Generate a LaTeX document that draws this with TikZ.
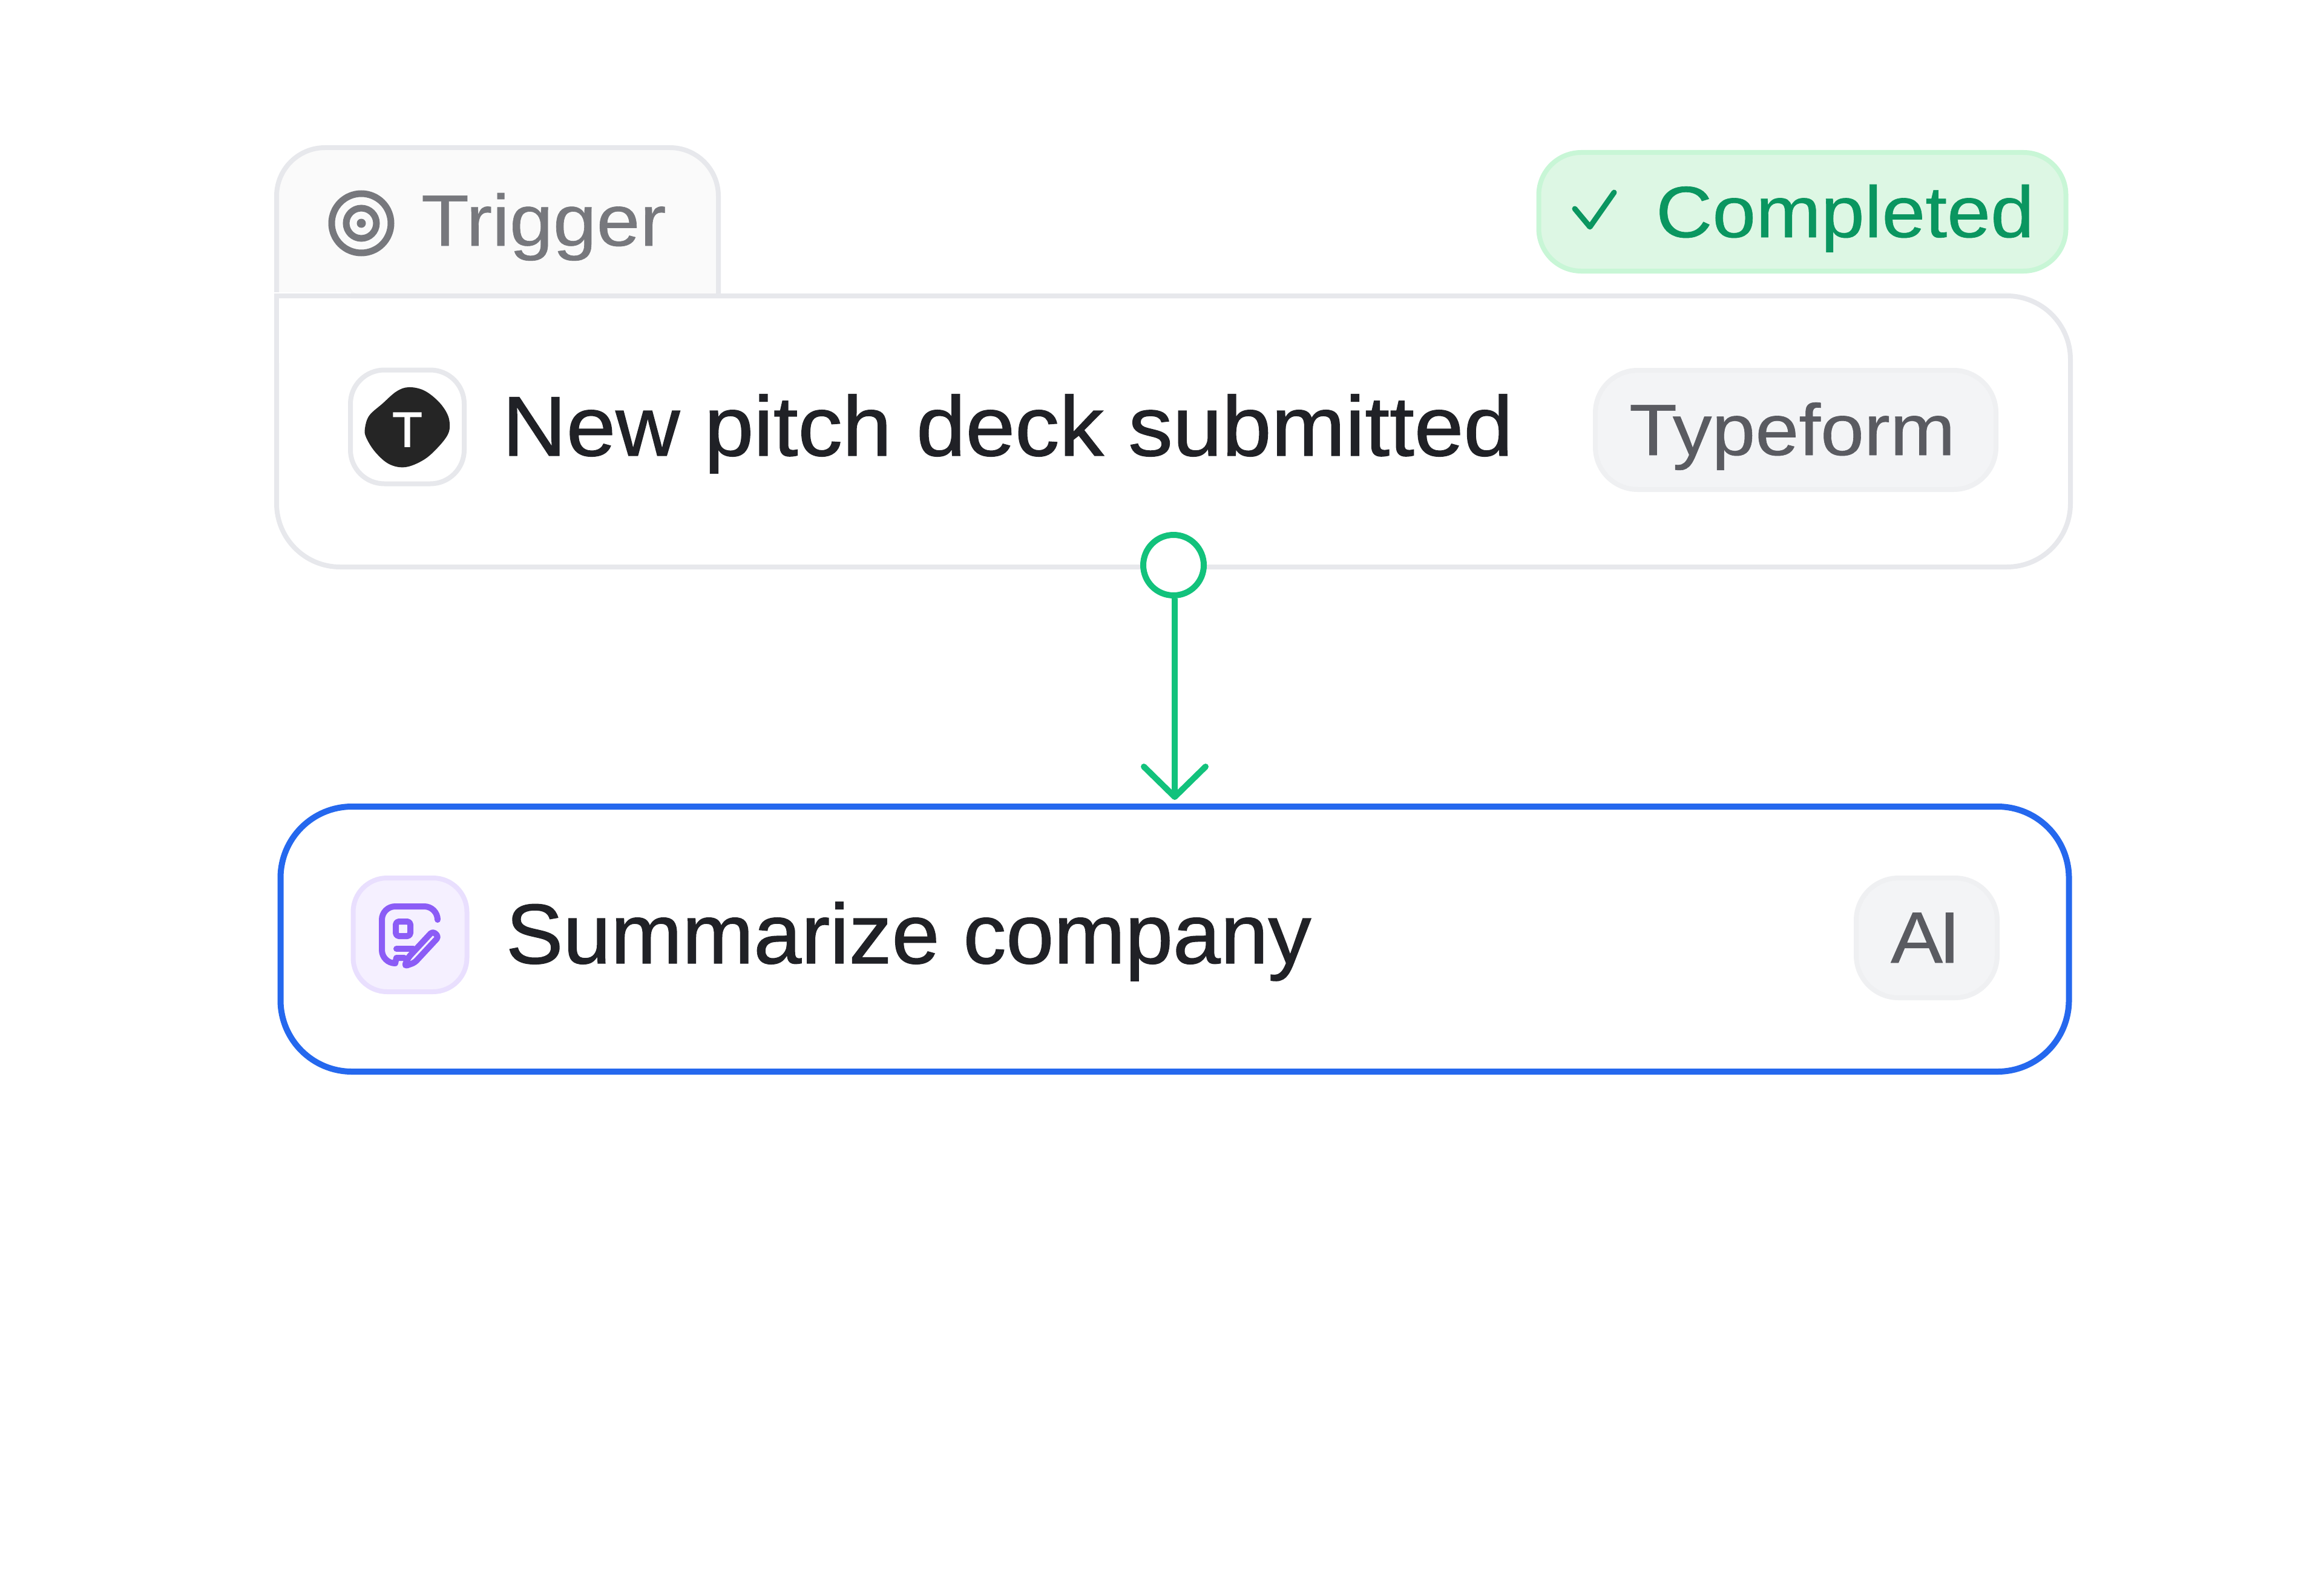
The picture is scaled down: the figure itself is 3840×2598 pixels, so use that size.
\documentclass[tikz,border=0pt]{standalone}
\usepackage{fontspec}
\setmainfont[FakeStretch=1.077,FakeBold=0.5]{Liberation Sans}
\newfontfamily\titlefont[FakeStretch=1.047,FakeBold=1.0]{Liberation Sans}
\newfontfamily\actionfont[FakeStretch=1.012,FakeBold=1.0]{Liberation Sans}
\newfontfamily\letterfont[FakeBold=2.0]{Liberation Sans}
\usetikzlibrary{arrows.meta}
\definecolor{cardline}{HTML}{E7E8EC}
\definecolor{tabfill}{HTML}{FAFAFA}
\definecolor{mutedtext}{HTML}{77787D}
\definecolor{titletext}{HTML}{202126}
\definecolor{tagtext}{HTML}{5A5B61}
\definecolor{tagfill}{HTML}{F3F4F6}
\definecolor{tagline}{HTML}{EFF0F2}
\definecolor{donefill}{HTML}{DDF7E4}
\definecolor{doneline}{HTML}{C8F6D6}
\definecolor{donetext}{HTML}{0A9660}
\definecolor{flowgreen}{HTML}{12C27C}
\definecolor{selectblue}{HTML}{2568EE}
\definecolor{aifill}{HTML}{F5F0FF}
\definecolor{ailine}{HTML}{E9DFFE}
\definecolor{aistroke}{HTML}{8B5CF6}
\definecolor{blobdark}{HTML}{252525}
\tikzset{
  cardbox/.style={draw=cardline, line width=8pt, fill=white, rounded corners=105pt},
  actionbox/.style={draw=selectblue, line width=10pt, fill=white, rounded corners=118pt},
  tagpill/.style={draw=tagline, line width=8pt, fill=tagfill, rounded corners=70pt},
  donepill/.style={draw=doneline, line width=8pt, fill=donefill, rounded corners=70pt},
  iconbox/.style={line width=8pt, rounded corners=56pt, minimum width=188pt, minimum height=188pt},
  label/.style={anchor=base west, inner sep=0pt, outer sep=0pt},
  titlelabel/.style={label, text=titletext},
  smalllabel/.style={label, font=\fontsize{120}{130}\selectfont},
  port/.style={circle, draw=flowgreen, line width=10pt, fill=white, minimum size=100pt, inner sep=0pt},
  flow/.style={draw=flowgreen, line width=10pt, -{Straight Barb[length=50pt, width=102pt, line width=10pt, round]}, shorten >=6pt},
  penline/.style={draw=aistroke, line width=10pt, line cap=round, line join=round},
}
\begin{document}
\begin{tikzpicture}[x=1pt, y=-1pt]
      \useasboundingbox (0,0) rectangle (3840,2598);

      % tab behind the first card
      \draw[draw=cardline, line width=8pt, fill=tabfill, rounded corners=80pt] (457,489) -- (457,244) -- (1187,244) -- (1187,489);
      \node[cardbox, minimum width=2964pt, minimum height=448pt] at (1939,713) (triggercard) {};
      % card corner under the tab is square
      \fill[white] (451,483) rectangle (580,600);
      \draw[draw=cardline, line width=8pt] (457,600) -- (457,489) -- (580,489);
      \node[actionbox, minimum width=2955pt, minimum height=438pt] at (1941,1552) (actioncard) {};

      \draw[mutedtext, line width=11pt] (597,369) circle (49);
      \draw[mutedtext, line width=11pt] (597,369) circle (25);
      \fill[mutedtext] (597,369) circle (7.5);
      \node[smalllabel, text=mutedtext] at (696,406) (triggerlabel) {Trigger};

      \node[donepill, minimum width=871pt, minimum height=196pt] at (2978,350) (donetag) {};
      \draw[draw=donetext, line width=9pt, line cap=round, line join=round] (2602,345) -- (2627,375) -- (2667,318);
      \node[smalllabel, text=donetext] at (2736,392) (donelabel) {Completed};

      \node[iconbox, draw=cardline, fill=white] at (673,705.5) (typeicon) {};
      \fill[blobdark] plot[smooth cycle, tension=0.6] coordinates {(675,640) (700,645) (723,662) (738,682) (743,700) (740,718) (723,740) (700,760) (670,772) (643,767) (620,747) (605,723) (603,708) (610,687) (632,667) (655,647)};
      \node[anchor=base, inner sep=0pt, text=white, font=\letterfont\fontsize{81}{90}\selectfont] at (673,738) (typeletter) {T};
      \node[titlelabel, font=\titlefont\fontsize{140}{150}\selectfont] at (830,753) (triggertitle) {New pitch deck submitted};

      \node[tagpill, minimum width=662pt, minimum height=197pt] at (2967,710.5) (typetag) {};
      \node[smalllabel, text=tagtext] at (2692,752) (typelabel) {Typeform};

      \node[port] at (1939,934) (outport) {};
      \draw[flow] (outport.south -| actioncard.north) -- (actioncard.north);

      \node[iconbox, draw=ailine, fill=aifill] at (677.5,1545) (aiicon) {};
      \draw[penline, rounded corners=22pt] (723,1520) -- (723,1498) -- (631,1498) -- (631,1592) -- (653,1592);
      \draw[penline] (653,1592) -- (655,1583) -- (668,1583);
      \draw[penline, rounded corners=5pt] (654,1523) rectangle (678,1547);
      \draw[penline] (655,1568) -- (683,1568);
      \draw[penline, rounded corners=5pt] (668,1597) -- (675,1582) -- (715,1539) -- (725,1548) -- (685,1591) -- cycle;
      \node[titlelabel, font=\actionfont\fontsize{140}{150}\selectfont] at (836,1592) (actiontitle) {Summarize company};

      \node[tagpill, minimum width=233pt, minimum height=198pt] at (3183.5,1550) (aitag) {};
      \node[smalllabel, text=tagtext] at (3124,1591) (ailabel) {A\kern-7pt I};
\end{tikzpicture}
\end{document}
